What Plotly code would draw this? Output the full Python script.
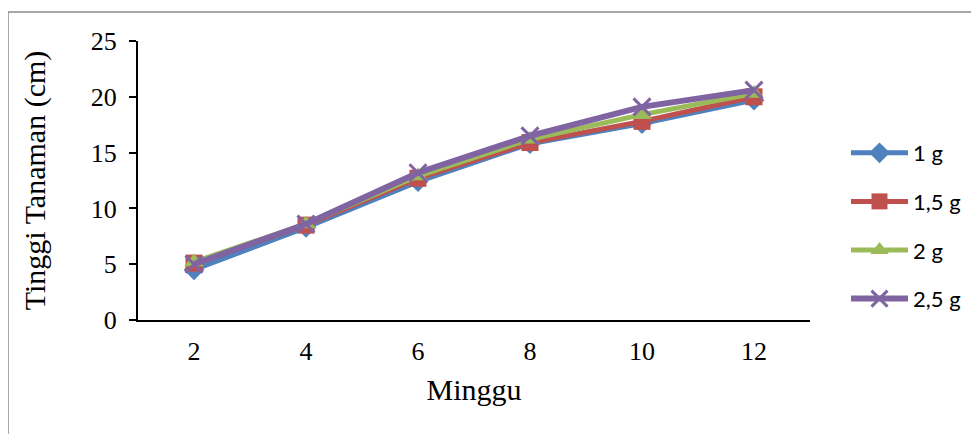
import plotly.graph_objects as go

weeks = ["2", "4", "6", "8", "10", "12"]
s1 = [4.5, 8.3, 12.4, 15.8, 17.6, 19.7]
s15 = [5.1, 8.5, 12.7, 15.9, 17.8, 20.0]
s2 = [5.2, 8.6, 12.9, 16.2, 18.4, 20.3]
s25 = [5.0, 8.6, 13.2, 16.5, 19.1, 20.6]
names = ["1 g", "1,5 g", "2 g", "2,5 g"]
colors = ["#4F81BD", "#C0504D", "#9BBB59", "#8064A2"]
symbols = ["diamond", "square", "triangle-up", "x-thin"]
sizes = [16, 17, 17, 17]
series = [s1, s15, s2, s25]

fig = go.Figure()
for i, (n, c, s, v) in enumerate(zip(names, colors, symbols, series)):
    marker = dict(symbol=s, size=sizes[i], color=c)
    if s == "x-thin":
        marker = dict(symbol=s, size=sizes[i], color=c, line=dict(color=c, width=3))
    fig.add_trace(go.Scatter(
        x=weeks, y=v, name=n, mode="lines+markers",
        line=dict(color=c, width=6 if i == 3 else 5),
        marker=marker, legendgroup=n,
    ))

OFF = 8  # page body margin
W, H = 979 - OFF, 434 - OFF
l, t = 138 - OFF, 41 - OFF
pw, ph = 810 - 138, 320 - 41
r, b = W - l - pw, H - t - ph

def px(x):
    return (x - OFF - l) / pw

def py(y):
    return (t + ph - (y - OFF)) / ph

fig.update_layout(
    width=W, height=H,
    margin=dict(l=l, r=r, t=t, b=b),
    paper_bgcolor="white", plot_bgcolor="white",
    font=dict(family="Liberation Serif", color="black"),
    showlegend=True,
    legend=dict(
        x=px(846), y=py(132), xanchor="left", yanchor="top",
        font=dict(family="Lato", size=22, color="black"),
        itemwidth=57, tracegroupgap=17, traceorder="grouped",
        bgcolor="rgba(0,0,0,0)",
    ),
    xaxis=dict(
        type="category", range=[-0.5, len(weeks) - 0.5],
        showgrid=False, showline=True, linecolor="black",
        linewidth=2, ticks="", tickfont=dict(size=26, family="Liberation Serif"),
        ticklabelstandoff=7,
        title=dict(text="Minggu", font=dict(size=30, family="Liberation Serif"), standoff=14),
        zeroline=False,
    ),
    yaxis=dict(
        range=[0, 25], tickvals=[0, 5, 10, 15, 20, 25], showgrid=False,
        showline=True, linecolor="black", linewidth=2, ticks="outside",
        ticklen=7, tickwidth=1.5, tickcolor="black",
        tickfont=dict(size=26, family="Liberation Serif"),
        ticklabelstandoff=7,
        title=dict(text="Tinggi Tanaman (cm)", font=dict(size=30, family="Liberation Serif"), standoff=36),
        zeroline=False,
    ),
    shapes=[dict(
        type="rect", xref="paper", yref="paper",
        x0=px(8), x1=px(995), y0=py(450), y1=py(12),
        line=dict(color="#8c8c8c", width=1.5), fillcolor="rgba(0,0,0,0)", layer="below",
    )],
)

fig.write_html("out.html")
